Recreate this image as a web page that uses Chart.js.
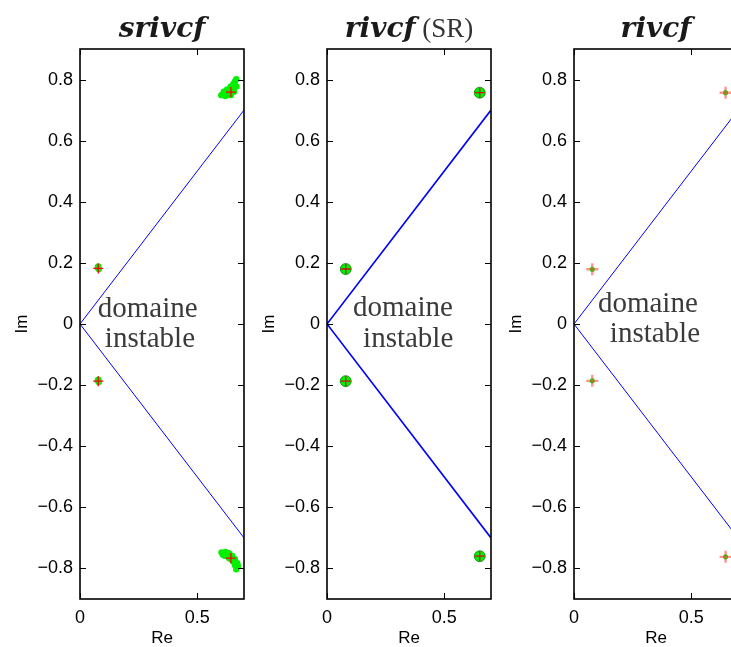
<!DOCTYPE html>
<html>
<head>
<meta charset="utf-8">
<script src="https://cdn.jsdelivr.net/npm/chart.js@4.4.1/dist/chart.umd.min.js"></script>
<style>
  html, body { margin: 0; padding: 0; background: #fff; width: 731px; height: 647px; overflow: hidden; }
  .panel { position: absolute; top: 0; width: 246px; height: 647px; }
</style>
</head>
<body>
<div class="panel" style="left:0px"><canvas id="p1" width="246" height="647"></canvas></div>
<div class="panel" style="left:247px"><canvas id="p2" width="246" height="647"></canvas></div>
<div class="panel" style="left:494px"><canvas id="p3" width="246" height="647"></canvas></div>
<script>
// axes
const imTicks = [-0.8, -0.6, -0.4, -0.2, 0, 0.2, 0.4, 0.6, 0.8]
const reTicks = [0, 0.5]

// limite du domaine instable (Im = +/- Re)
const limRe = [0.7, 0, 0.7]
const limIm = [0.7, 0, -0.7]

// srivcf : nuage des poles estimes (Monte Carlo)
const nuageRe = [0.603, 0.614, 0.628, 0.643, 0.654, 0.661, 0.667, 0.621, 0.643, 0.657, 0.668, 0.636, 0.650, 0.610, 0.632,
                 0.604, 0.621, 0.636, 0.650, 0.661, 0.671, 0.674, 0.667, 0.619, 0.636, 0.653, 0.661, 0.610, 0.645,
                 0.076, 0.080, 0.078, 0.076, 0.080, 0.078]
const nuageIm = [0.749, 0.760, 0.768, 0.777, 0.785, 0.793, 0.801, 0.746, 0.749, 0.760, 0.777, 0.757, 0.768, 0.752, 0.750,
                 -0.748, -0.746, -0.750, -0.759, -0.770, -0.783, -0.792, -0.803, -0.759, -0.766, -0.777, -0.789, -0.755, -0.770,
                 0.185, 0.180, 0.188, -0.185, -0.190, -0.182]
// srivcf : moyenne
const srivcfRe = [0.644, 0.644, 0.078, 0.078]
const srivcfIm = [0.759, -0.766, 0.182, -0.187]

// rivcf (SR)
const rivcfSRRe = [0.652, 0.652, 0.080, 0.080]
const rivcfSRIm = [0.757, -0.760, 0.180, -0.187]

// rivcf
const rivcfRe = [0.647, 0.647, 0.078, 0.078]
const rivcfIm = [0.757, -0.762, 0.179, -0.186]

const pts = (re, im) => re.map((v, i) => ({x: v, y: im[i]}))
const vert = 'rgb(0,240,0)'
const fmt = v => v === 0 ? '0' : (v < 0 ? '\u2212' : '') + Math.abs(v).toFixed(1)

// titre : partie gras italique + partie normale
const titrePlugin = {
  id: 'titre',
  afterDraw(chart, args, opts) {
    const ctx = chart.ctx
    const a = chart.chartArea
    ctx.save()
    ctx.textBaseline = 'alphabetic'
    ctx.font = 'italic bold 28px "DejaVu Serif"'
    const w1 = ctx.measureText(opts.gras).width
    ctx.font = '27px "Liberation Serif"'
    const w2 = opts.normal ? ctx.measureText(opts.normal).width : 0
    let x = (a.left + a.right) / 2 - (w1 + w2) / 2
    ctx.textAlign = 'left'
    ctx.fillStyle = '#1a1a1a'
    ctx.font = 'italic bold 28px "DejaVu Serif"'
    ctx.fillText(opts.gras, x, 37)
    if (opts.normal) {
      ctx.fillStyle = '#333'
      ctx.font = '27px "Liberation Serif"'
      ctx.fillText(opts.normal, x + w1, 37)
    }
    ctx.restore()
  }
}

// boite + graduations vers l'interieur
const boitePlugin = {
  id: 'boite',
  afterDraw(chart) {
    const ctx = chart.ctx
    const a = chart.chartArea
    const sx = chart.scales.x, sy = chart.scales.y
    ctx.save()
    ctx.strokeStyle = '#000'
    ctx.lineWidth = 1
    ctx.beginPath()
    imTicks.forEach(v => {
      const y = Math.round(sy.getPixelForValue(v)) + 0.5
      ctx.moveTo(a.left, y); ctx.lineTo(a.left + 6, y)
      ctx.moveTo(a.right, y); ctx.lineTo(a.right - 6, y)
    })
    reTicks.forEach(v => {
      const x = Math.round(sx.getPixelForValue(v)) + 0.5
      ctx.moveTo(x, a.bottom); ctx.lineTo(x, a.bottom - 6)
      ctx.moveTo(x, a.top); ctx.lineTo(x, a.top + 6)
    })
    ctx.stroke()
    ctx.lineWidth = 1.6
    ctx.strokeRect(a.left, a.top, a.right - a.left, a.bottom - a.top)
    ctx.restore()
  }
}

// texte "domaine instable"
const textePlugin = {
  id: 'texte',
  afterDatasetsDraw(chart, args, opts) {
    const ctx = chart.ctx
    const sx = chart.scales.x, sy = chart.scales.y
    ctx.save()
    ctx.font = '29px "Liberation Serif"'
    ctx.fillStyle = '#3a3a3a'
    ctx.textAlign = 'left'
    ctx.textBaseline = 'alphabetic'
    ctx.fillText('domaine', sx.getPixelForValue(opts.x1), sy.getPixelForValue(opts.y1))
    ctx.fillText('instable', sx.getPixelForValue(opts.x2), sy.getPixelForValue(opts.y2))
    ctx.restore()
  }
}

function makePanel(id, datasets, titre, texte, lw) {
  datasets.push({
    type: 'line',
    data: pts(limRe, limIm),
    borderColor: '#0000ff',
    borderWidth: lw,
    pointRadius: 0,
    fill: false,
    tension: 0,
    order: 5
  })
  return new Chart(document.getElementById(id), {
    type: 'scatter',
    data: { datasets },
    options: {
      responsive: false,
      animation: false,
      events: [],
      layout: { autoPadding: false, padding: { top: 49, right: 2, left: 0, bottom: 0 } },
      plugins: {
        legend: { display: false },
        tooltip: { enabled: false },
        titre,
        texte
      },
      scales: {
        x: {
          type: 'linear', min: 0, max: 0.7,
          afterBuildTicks: s => { s.ticks = reTicks.map(v => ({value: v})) },
          afterFit: s => { s.height = 48; s.paddingLeft = 0; s.paddingRight = 0 },
          grid: { display: false, drawTicks: false },
          border: { display: false },
          ticks: { color: '#000', padding: 8, maxRotation: 0, font: { family: '"Liberation Sans"', size: 18 }, callback: fmt },
          title: { display: true, text: 'Re', color: '#000', font: { family: '"Liberation Sans"', size: 17, lineHeight: 1 }, padding: 0 }
        },
        y: {
          type: 'linear', min: -0.9, max: 0.9,
          afterBuildTicks: s => { s.ticks = imTicks.map(v => ({value: v})) },
          afterFit: s => { s.width = 80; s.paddingTop = 0; s.paddingBottom = 0 },
          grid: { display: false, drawTicks: false },
          border: { display: false },
          ticks: { color: '#000', padding: 7, font: { family: '"Liberation Sans"', size: 18 }, callback: fmt },
          title: { display: true, text: 'Im', color: '#000', font: { family: '"Liberation Sans"', size: 17, lineHeight: 1 }, padding: { top: 14, bottom: 0 } }
        }
      }
    },
    plugins: [titrePlugin, boitePlugin, textePlugin]
  })
}

makePanel('p1', [
  { data: pts(srivcfRe, srivcfIm), pointStyle: 'cross', pointRadius: 5, borderColor: '#ff0000', borderWidth: 1.3, order: 0 },
  { data: pts(nuageRe, nuageIm), pointStyle: 'circle', pointRadius: 3.2, backgroundColor: vert, borderColor: vert, borderWidth: 0, order: 1 }
], { gras: 'srivcf' }, { x1: 0.076, y1: 0.024, x2: 0.106, y2: -0.075 }, 1)

makePanel('p2', [
  { data: pts(rivcfSRRe, rivcfSRIm), pointStyle: 'cross', pointRadius: 5, borderColor: '#d01010', borderWidth: 1.3, order: 0 },
  { data: pts(rivcfSRRe, rivcfSRIm), pointStyle: 'circle', pointRadius: 5.5, backgroundColor: vert, borderColor: 'rgba(0,110,0,0.7)', borderWidth: 1, order: 1 }
], { gras: 'rivcf', normal: ' (SR)' }, { x1: 0.111, y1: 0.027, x2: 0.154, y2: -0.075 }, 1.6)

makePanel('p3', [
  { data: pts(rivcfRe, rivcfIm), pointStyle: 'cross', pointRadius: 6, borderColor: 'rgba(255,60,60,0.55)', borderWidth: 2.4, order: 0 },
  { data: pts(rivcfRe, rivcfIm), pointStyle: 'circle', pointRadius: 2.6, backgroundColor: vert, borderColor: vert, borderWidth: 0, order: 1 }
], { gras: 'rivcf' }, { x1: 0.102, y1: 0.04, x2: 0.153, y2: -0.058 }, 1)
</script>
</body>
</html>
